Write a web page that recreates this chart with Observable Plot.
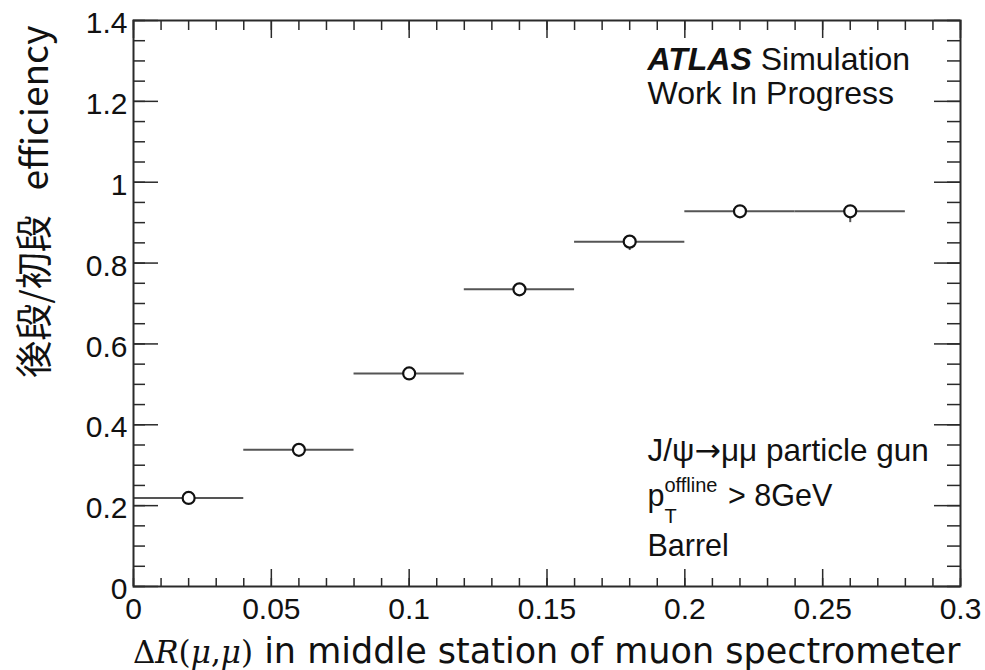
<!DOCTYPE html>
<html><head><meta charset="utf-8">
<script src="https://cdn.jsdelivr.net/npm/d3@7"></script>
<script src="https://cdn.jsdelivr.net/npm/@observablehq/plot@0.6"></script>
<style>body{margin:0;background:#fff;}</style>
</head><body><div id="chart"></div>
<script>
// ---- data ----
const binLow = [0.00, 0.04, 0.08, 0.12, 0.16, 0.20, 0.24];
const binHigh = [0.04, 0.08, 0.12, 0.16, 0.20, 0.24, 0.28];
const binCenter = [0.02, 0.06, 0.10, 0.14, 0.18, 0.22, 0.26];
const efficiency = [0.219, 0.338, 0.527, 0.735, 0.853, 0.928, 0.928];
const errLow = [0.010, 0.010, 0.010, 0.010, 0.022, 0.012, 0.028];
const errHigh = [0.008, 0.008, 0.008, 0.008, 0.008, 0.008, 0.008];
const xMajorTicks = [0, 0.05, 0.1, 0.15, 0.2, 0.25, 0.3];
const yMajorTicks = [0, 0.2, 0.4, 0.6, 0.8, 1, 1.2, 1.4];
const xMinorTicks = d3.ticks(0, 0.3, 30);
const yMinorTicks = d3.ticks(0, 1.4, 28);
const xTitleMath = "ΔR(μ,μ)";
const xTitleText = " in middle station of muon spectrometer";
const yTitle = "後段/初段   efficiency";
const atlasLines = ["ATLAS Simulation", "Work In Progress"];
const infoLines = ["J/ψ→μμ particle gun", "p_{T}^{offline} > 8GeV", "Barrel"];

// ---- layout ----
const W = 985, H = 670;
const mL = 133, mR = 25, mT = 20, mB = 84;
const fw = W - mL - mR, fh = H - mT - mB;
const ink = "#2a2a2a";
const sans = "'Liberation Sans', Arial, Helvetica, sans-serif";

const rows = binCenter.map((c, i) => ({
  c, lo: binLow[i], hi: binHigh[i], e: efficiency[i],
  el: efficiency[i] - errLow[i], eh: efficiency[i] + errHigh[i]
}));
const tag = name => () => name;

const plot = Plot.plot({
  width: W, height: H,
  marginLeft: mL, marginRight: mR, marginTop: mT, marginBottom: mB,
  style: {fontFamily: sans, fontSize: "30px", background: "white", color: "#111", overflow: "visible"},
  x: {domain: [0, 0.3]},
  y: {domain: [0, 1.4]},
  marks: [
    Plot.ruleY(rows, {y: "e", x1: "lo", x2: "hi", stroke: "#555", strokeWidth: 2}),
    Plot.ruleX(rows, {x: "c", y1: "el", y2: "eh", stroke: "#555", strokeWidth: 2}),
    Plot.dot(rows, {x: "c", y: "e", r: 6, fill: "white", stroke: "#111", strokeWidth: 2.2}),
    // inward ROOT-style ticks
    Plot.tickX(xMinorTicks, {x: d => d, insetTop: fh - 8, stroke: ink, strokeWidth: 1.5}),
    Plot.tickX(xMajorTicks, {x: d => d, insetTop: fh - 17, stroke: ink, strokeWidth: 1.5}),
    Plot.tickX(xMinorTicks, {x: d => d, insetBottom: fh - 10, stroke: ink, strokeWidth: 1.5}),
    Plot.tickX(xMajorTicks, {x: d => d, insetBottom: fh - 18, stroke: ink, strokeWidth: 1.5}),
    Plot.tickY(yMinorTicks, {y: d => d, insetRight: fw - 12, stroke: ink, strokeWidth: 1.5}),
    Plot.tickY(yMajorTicks, {y: d => d, insetRight: fw - 25, stroke: ink, strokeWidth: 1.5}),
    Plot.tickY(yMinorTicks, {y: d => d, insetLeft: fw - 13, stroke: ink, strokeWidth: 1.5}),
    Plot.tickY(yMajorTicks, {y: d => d, insetLeft: fw - 26, stroke: ink, strokeWidth: 1.5}),
    Plot.frame({stroke: ink, strokeWidth: 2}),
    Plot.axisX({ticks: xMajorTicks, tickFormat: d => String(d), tickSize: 0, tickPadding: 11, fontSize: 30, label: null, fill: "#111"}),
    Plot.axisY({ticks: yMajorTicks, tickFormat: d => String(d), tickSize: 0, tickPadding: 6, fontSize: 30, label: null, dy: 3, fill: "#111"}),
    Plot.text([yTitle], {text: d => d, frameAnchor: "top-left", rotate: -90, textAnchor: "end", lineAnchor: "middle",
      dx: -97, dy: 5, fontSize: 37, fontFamily: "'Noto Sans CJK JP', 'Noto Sans', sans-serif", fill: "#111", ariaLabel: tag("ytitle")}),
    Plot.text([xTitleMath + xTitleText], {text: d => d, frameAnchor: "bottom-right", textAnchor: "end", lineAnchor: "middle",
      dy: 65, fontSize: 35, fontFamily: "'DejaVu Sans', sans-serif", fill: "#111", ariaLabel: tag("xtitle")}),
    Plot.text([atlasLines[0]], {text: d => d, frameAnchor: "top-left", textAnchor: "start", lineAnchor: "top",
      dx: 514, dy: 27, fontSize: 32, fill: "#111", ariaLabel: tag("atlas")}),
    Plot.text([atlasLines[1]], {text: d => d, frameAnchor: "top-left", textAnchor: "start", lineAnchor: "top",
      dx: 514, dy: 61, fontSize: 32, fill: "#111"}),
    Plot.text([infoLines[0]], {text: d => d, frameAnchor: "top-left", textAnchor: "start", lineAnchor: "top",
      dx: 514, dy: 418, fontSize: 31.5, fill: "#111", ariaLabel: tag("jpsi")}),
    Plot.text([infoLines[1]], {text: d => d, frameAnchor: "top-left", textAnchor: "start", lineAnchor: "top",
      dx: 514, dy: 464, fontSize: 30.5, fill: "#111", ariaLabel: tag("ptline")}),
    Plot.text([infoLines[2]], {text: d => d, frameAnchor: "top-left", textAnchor: "start", lineAnchor: "top",
      dx: 514, dy: 514, fontSize: 30.5, fill: "#111"})
  ]
});
document.getElementById("chart").append(plot);

// ---- rich text (italic math, bold ATLAS, sub/superscripts) ----
function textOf(label) {
  const el = plot.querySelector(`[aria-label="${label}"]`);
  if (!el) return null;
  return d3.select(el.tagName.toLowerCase() === "text" ? el : el.querySelector("text"));
}
{
  const t = textOf("ytitle");
  if (t) t.style("white-space", "pre");
}
{
  const t = textOf("xtitle");
  if (t) {
    t.text(null);
    for (const ch of xTitleMath) {
      const italic = /[A-Za-zμ]/.test(ch);
      t.append("tspan").attr("font-family", "'DejaVu Serif', 'Liberation Serif', serif")
        .attr("font-style", italic ? "italic" : "normal").attr("font-size", 31).text(ch);
    }
    t.append("tspan").style("white-space", "pre").text(xTitleText);
  }
}
{
  const t = textOf("atlas");
  if (t) {
    const s = atlasLines[0];
    const k = s.indexOf(" ");
    t.text(null);
    t.append("tspan").attr("font-weight", "bold").attr("font-style", "italic").text(s.slice(0, k));
    t.append("tspan").style("white-space", "pre").text(s.slice(k));
  }
}
{
  const t = textOf("jpsi");
  if (t) {
    const parts = infoLines[0].split("→");
    t.text(null);
    parts.forEach((p, i) => {
      if (i > 0) t.append("tspan").attr("font-family", "'DejaVu Sans', sans-serif").text("→");
      t.append("tspan").style("white-space", "pre").text(p);
    });
  }
}
{
  const t = textOf("ptline");
  if (t) {
    const m = infoLines[1].match(/^(.*?)_\{(.*?)\}\^\{(.*?)\}(.*)$/);
    t.text(null);
    t.append("tspan").text(m[1]);
    const sup = t.append("tspan").attr("font-size", 20).attr("dy", -14).text(m[3]);
    const supW = sup.node().getComputedTextLength();
    const sub = t.append("tspan").attr("font-size", 20).attr("dy", 31).attr("dx", -supW).text(m[2]);
    const subW = sub.node().getComputedTextLength();
    t.append("tspan").attr("dy", -17).attr("dx", supW - subW + 2).style("white-space", "pre").text(m[4]);
  }
}
</script>
</body></html>
